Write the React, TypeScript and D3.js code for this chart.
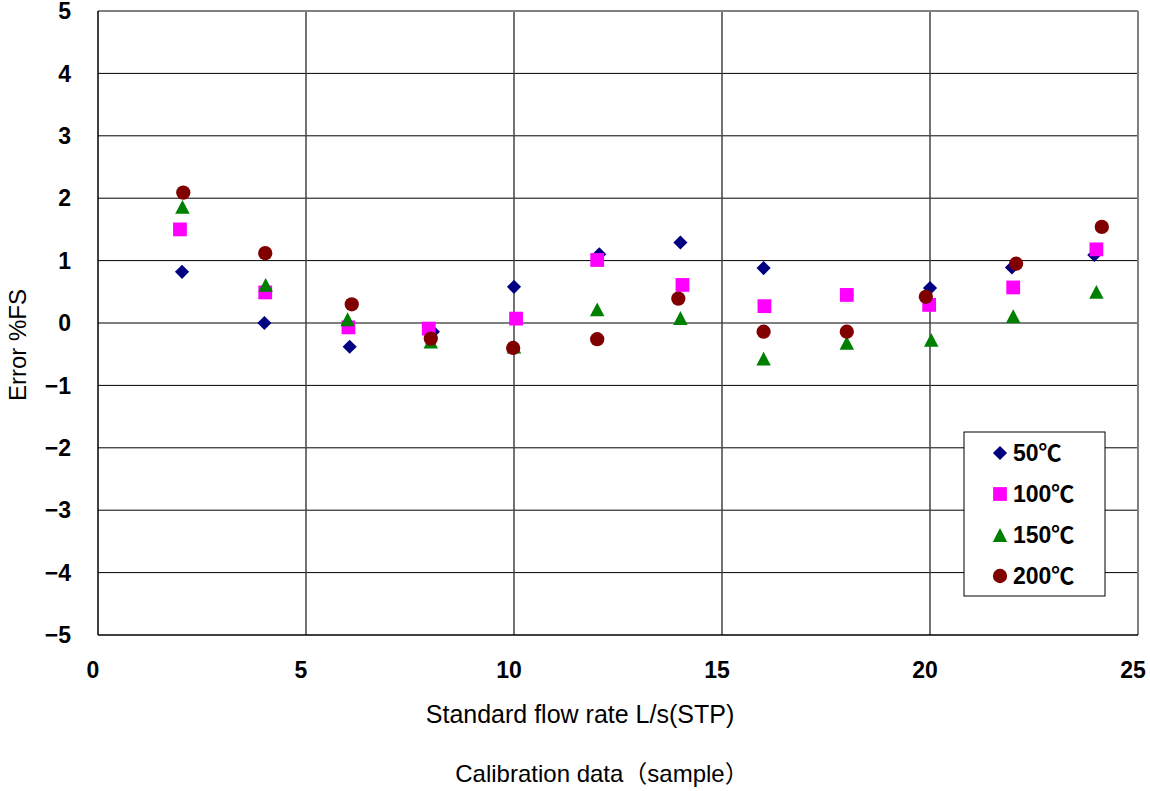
import React from 'react'
import * as d3 from 'd3'

// series data
const seriesNames = ['50℃', '100℃', '150℃', '200℃']
const x50 = [2.02, 4.0, 6.05, 8.05, 10.0, 12.05, 14.0, 16.0, 18.0, 20.0, 21.97, 23.95]
const y50 = [0.82, 0.0, -0.38, -0.14, 0.58, 1.1, 1.29, 0.88, 0.45, 0.56, 0.89, 1.09]
const x100 = [1.97, 4.02, 6.02, 7.95, 10.05, 12.0, 14.05, 16.02, 18.0, 19.98, 22.0, 24.0]
const y100 = [1.5, 0.49, -0.07, -0.09, 0.07, 1.01, 0.61, 0.27, 0.45, 0.29, 0.57, 1.18]
const x150 = [2.03, 4.03, 6.0, 8.0, 10.0, 12.0, 14.0, 16.0, 18.0, 20.03, 22.0, 24.0]
const y150 = [1.86, 0.61, 0.06, -0.3, -0.38, 0.22, 0.08, -0.57, -0.32, -0.27, 0.11, 0.5]
const x200 = [2.05, 4.02, 6.1, 8.0, 9.98, 12.0, 13.95, 16.0, 18.0, 19.9, 22.07, 24.13]
const y200 = [2.09, 1.12, 0.3, -0.25, -0.4, -0.26, 0.39, -0.14, -0.14, 0.42, 0.95, 1.54]

const xTicks = [0, 5, 10, 15, 20, 25]
const yTicks = [-5, -4, -3, -2, -1, 0, 1, 2, 3, 4, 5]

const colors = ['#000080', '#FF00FF', '#008000', '#800000']

// excel-like triangle (bounding box centered on the point)
const excelTriangle = {
  draw(ctx: any, size: number) {
    const w = Math.sqrt(size)
    const h = w * 0.95
    ctx.moveTo(0, -h / 2)
    ctx.lineTo(w / 2, h / 2)
    ctx.lineTo(-w / 2, h / 2)
    ctx.closePath()
  }
}

const symbols = [
  {path: d3.symbol(d3.symbolSquare, 100)(), rotate: 45},
  {path: d3.symbol(d3.symbolSquare, 190)(), rotate: 0},
  {path: d3.symbol(excelTriangle, 210)(), rotate: 0},
  {path: d3.symbol(d3.symbolCircle, 160)(), rotate: 0}
]

const font = '"Liberation Sans", Arial, "Noto Sans CJK JP", sans-serif'

export default function App() {
  const width = 1150
  const height = 791
  const left = 98
  const right = 1138
  const top = 11
  const bottom = 635

  const x = d3.scaleLinear().domain([0, 25]).range([left, right])
  const y = d3.scaleLinear().domain([-5, 5]).range([bottom, top])

  const series = [
    {xs: x50, ys: y50},
    {xs: x100, ys: y100},
    {xs: x150, ys: y150},
    {xs: x200, ys: y200}
  ]

  const fmt = (v: number) => (v < 0 ? '\u2212' + Math.abs(v) : String(v))

  const legendX = 964
  const legendY = 432
  const legendRows = [453, 494, 535, 576]

  return (
    <svg
      width={width}
      height={height}
      style={{position: 'absolute', left: 0, top: 0, background: '#fff'}}
      fontFamily={font}
    >
      <rect x={0} y={0} width={width} height={height} fill="#fff" />

      {/* horizontal grid */}
      {yTicks.slice(1, -1).map(t => (
        <line key={'h' + t} x1={left} x2={right} y1={y(t)} y2={y(t)} stroke="#000" strokeWidth={1} />
      ))}
      {/* vertical grid */}
      {xTicks.slice(1, -1).map(t => (
        <line key={'v' + t} x1={x(t)} x2={x(t)} y1={top} y2={bottom} stroke="#444" strokeWidth={1.5} />
      ))}

      {/* frame */}
      <line x1={left} x2={right} y1={top} y2={top} stroke="#808080" strokeWidth={2} />
      <line x1={right} x2={right} y1={top} y2={bottom} stroke="#808080" strokeWidth={2} />
      <line x1={left} x2={left} y1={top} y2={bottom} stroke="#000" strokeWidth={1.5} />
      <line x1={left} x2={right} y1={bottom} y2={bottom} stroke="#000" strokeWidth={1.5} />

      {/* y tick labels */}
      {yTicks.map(t => (
        <text key={'yl' + t} x={71} y={y(t)} dy="0.36em" textAnchor="end" fontSize={23} fontWeight="bold">
          {fmt(t)}
        </text>
      ))}
      {/* x tick labels */}
      {xTicks.map(t => (
        <text key={'xl' + t} x={x(t) - 5} y={678} textAnchor="middle" fontSize={23} fontWeight="bold">
          {t}
        </text>
      ))}

      {/* points */}
      {series.map((s, si) => (
        <g key={'s' + si} fill={colors[si]}>
          {s.xs.map((xv, i) => (
            <path
              key={i}
              d={symbols[si].path}
              transform={`translate(${x(xv)},${y(s.ys[i])}) rotate(${symbols[si].rotate})`}
            />
          ))}
        </g>
      ))}

      {/* legend */}
      <rect x={legendX} y={legendY} width={141} height={164} fill="#fff" stroke="#000" strokeWidth={1} />
      {seriesNames.map((name, i) => (
        <g key={'lg' + i}>
          <path
            d={symbols[i].path}
            fill={colors[i]}
            transform={`translate(1000,${legendRows[i]}) rotate(${symbols[i].rotate})`}
          />
          <text x={1013} y={legendRows[i]} dy="0.36em" fontSize={23} fontWeight="bold">
            {name}
          </text>
        </g>
      ))}

      {/* axis titles */}
      <text x={580} y={723} textAnchor="middle" fontSize={25}>
        Standard flow rate L/s(STP)
      </text>
      <text transform={`translate(26,${(top + bottom) / 2 + 22}) rotate(-90)`} textAnchor="middle" fontSize={24}>
        Error %FS
      </text>
      <text x={602} y={782} fontSize={24} textAnchor="middle">
        Calibration data（sample）
      </text>
    </svg>
  )
}
